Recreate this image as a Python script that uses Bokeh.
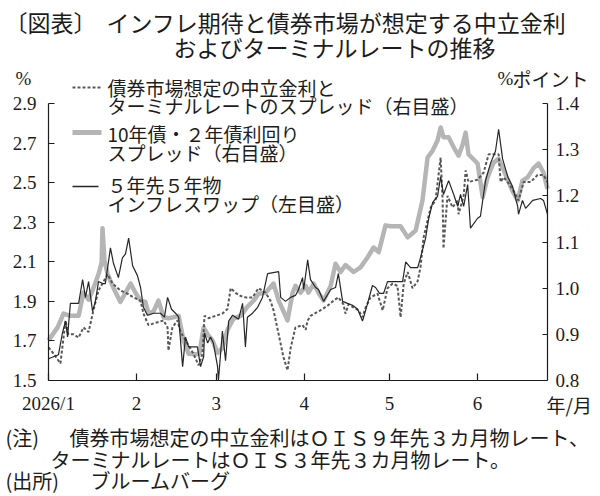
from bokeh.plotting import figure
from bokeh.models import Range1d, LinearAxis, FixedTicker, Label, Arrow, NumeralTickFormatter
from bokeh.embed import file_html
from bokeh.resources import INLINE

# ---------------- data (x = days since 2026/1/1) ----------------
month_ticks = [0, 31, 59, 90, 120, 151]
month_labels = ["2026/1", "2", "3", "4", "5", "6"]
left_ticks = [1.5, 1.7, 1.9, 2.1, 2.3, 2.5, 2.7, 2.9]
right_ticks = [0.8, 0.9, 1.0, 1.1, 1.2, 1.3, 1.4]

# 5年先5年物インフレスワップ (left axis, %)
swap_day = [0, 3.5, 4.9, 6.0, 6.7, 7.7, 10.6, 12.0, 13.0, 14.1,
            15.5, 16.5, 17.6, 19.0, 20.0, 21.8, 22.9, 24.6, 26.0, 27.1,
            28.2, 29.6, 31.3, 32.4, 33.4, 34.8, 37.0, 39.4, 40.8, 41.9,
            43.3, 44.7, 45.8, 47.2, 48.2, 49.3, 50.7, 52.4, 53.5, 54.6,
            54.9, 56.0, 57.0, 58.0, 59.5, 59.8, 61.2, 62.3, 63.4, 64.8,
            66.9, 68.3, 69.3, 70.0, 71.8, 73.6, 75.3, 77.1, 81.0, 81.7,
            83.4, 85.2, 86.9, 88.0, 89.4, 89.8, 91.2, 92.2, 94.0, 95.0,
            96.8, 99.3, 101.0, 102.0, 103.5, 105.2, 107.0, 108.8, 110.5, 112.3,
            114.0, 115.1, 116.5, 117.9, 119.3, 122.1, 124.6, 125.7, 127.4, 129.9,
            130.9, 132.7, 133.8, 135.2, 136.9, 138.0, 139.0, 140.8, 142.6, 144.0,
            145.0, 146.1, 147.5, 148.5, 151.0, 152.0, 153.8, 155.6, 157.3, 158.4,
            159.8, 161.6, 163.3, 165.1, 165.4, 166.8, 167.9, 170.4, 173.2, 174.2,
            175.6]
swap_val = [1.61, 1.63, 1.74, 1.80, 1.72, 1.89, 1.89, 2.01, 1.92, 2.00,
            1.85, 1.90, 2.00, 1.99, 1.99, 2.17, 2.09, 2.02, 2.12, 2.14,
            2.22, 2.08, 2.03, 1.97, 1.87, 1.83, 1.84, 1.84, 1.82, 1.92,
            1.86, 1.84, 1.82, 1.57, 1.72, 1.67, 1.67, 1.67, 1.57, 1.62,
            1.74, 1.69, 1.72, 1.69, 1.57, 1.50, 1.75, 1.60, 1.80, 1.83,
            1.81, 1.89, 1.67, 1.82, 1.84, 1.87, 1.92, 2.04, 2.05, 1.92,
            1.90, 1.92, 1.93, 1.96, 2.02, 1.96, 2.11, 2.01, 1.97, 1.96,
            1.90, 1.96, 1.97, 2.04, 1.90, 1.89, 1.88, 1.86, 1.80, 1.89,
            1.98, 1.97, 1.94, 1.94, 2.00, 2.00, 2.00, 2.10, 2.07, 2.07,
            2.12, 2.22, 2.32, 2.40, 2.43, 2.53, 2.44, 2.51, 2.44, 2.38,
            2.44, 2.38, 2.49, 2.27, 2.32, 2.33, 2.51, 2.60, 2.66, 2.77,
            2.62, 2.53, 2.48, 2.38, 2.34, 2.41, 2.37, 2.41, 2.42, 2.41,
            2.34]

# 10年債・2年債利回りスプレッド (right axis, %pt)
spread_day = [0, 3.2, 5.3, 7.7, 10.6, 12.3, 14.1, 15.8, 17.6, 18.7,
              19.0, 19.7, 20.8, 22.9, 25.3, 27.1, 28.9, 30.6, 32.4, 34.1,
              35.2, 37.0, 38.7, 40.5, 42.2, 44.0, 45.8, 47.5, 49.3, 51.7,
              53.1, 54.6, 56.0, 57.7, 59.5, 61.2, 63.0, 65.1, 67.6, 70.0,
              72.2, 73.9, 76.4, 79.2, 81.0, 82.7, 84.1, 85.9, 86.9, 88.7,
              90.5, 91.5, 93.3, 95.0, 96.8, 99.3, 101.0, 102.8, 104.5, 107.4,
              109.8, 112.3, 114.4, 116.2, 118.6, 120.4, 123.9, 126.4, 129.2, 131.6,
              133.4, 135.2, 136.9, 138.0, 139.0, 140.8, 142.6, 144.3, 145.7, 146.8,
              147.8, 151.0, 152.8, 154.5, 156.6, 158.4, 160.2, 161.6, 163.3, 165.1,
              166.8, 168.6, 170.7, 172.5, 174.2, 175.6]
spread_val = [0.887, 0.915, 0.945, 0.94, 0.94, 0.99, 0.975, 1.0, 1.03, 1.056,
              1.13, 1.06, 1.03, 1.0, 0.97, 0.99, 1.01, 0.99, 0.973, 0.97,
              0.945, 0.95, 0.973, 0.937, 0.935, 0.937, 0.94, 0.887, 0.858, 0.857,
              0.858, 0.915, 0.90, 0.887, 0.86, 0.87, 0.91, 0.934, 0.94, 0.96,
              0.973, 0.988, 0.99, 1.01, 0.973, 0.95, 0.93, 0.99, 1.005, 0.99,
              1.005, 0.99, 1.01, 0.99, 0.973, 1.005, 1.053, 1.035, 1.05, 1.035,
              1.045, 1.067, 1.088, 1.078, 1.136, 1.134, 1.134, 1.11, 1.125, 1.19,
              1.283, 1.298, 1.32, 1.348, 1.327, 1.327, 1.305, 1.287, 1.31, 1.337,
              1.29, 1.27, 1.197, 1.24, 1.272, 1.28, 1.255, 1.235, 1.21, 1.19,
              1.233, 1.24, 1.26, 1.27, 1.25, 1.215]

# 債券市場想定の中立金利とターミナルレートのスプレッド (right axis, %pt)
neutral_day = [0, 1.8, 4.2, 6.0, 7.0, 8.8, 10.6, 12.3, 14.1, 15.8,
               17.6, 19.0, 20.8, 22.5, 25.3, 27.8, 29.9, 32.4, 33.4, 35.2,
               37.7, 40.5, 41.9, 42.2, 43.6, 45.4, 46.5, 48.9, 51.0, 52.8,
               54.2, 54.9, 56.3, 58.8, 61.2, 63.0, 64.1, 65.8, 67.6, 69.3,
               71.8, 73.9, 76.4, 78.1, 79.2, 81.0, 82.7, 84.1, 85.2, 86.9,
               89.4, 90.5, 91.2, 92.2, 95.7, 98.2, 100.3, 102.0, 103.8, 104.5,
               105.6, 107.4, 109.1, 110.5, 111.6, 113.3, 115.8, 117.6, 119.3, 121.1,
               122.8, 123.9, 125.0, 126.4, 128.1, 129.9, 130.9, 132.0, 134.5, 136.2,
               138.0, 138.7, 139.0, 140.4, 142.2, 144.0, 144.3, 146.1, 146.8, 147.8,
               151.0, 153.1, 154.9, 156.6, 158.4, 159.1, 160.2, 161.9, 163.7, 165.4,
               167.2, 169.7, 172.1, 174.2, 175.6]
neutral_val = [0.872, 0.858, 0.837, 0.93, 0.90, 0.90, 0.893, 0.915, 0.905, 0.952,
               0.995, 1.01, 1.03, 1.01, 0.995, 0.988, 0.98, 0.973, 0.945, 0.92,
               0.925, 0.93, 0.915, 0.865, 0.915, 0.93, 0.905, 0.88, 0.858, 0.833,
               0.858, 0.94, 0.935, 0.94, 0.945, 0.955, 1.0, 0.99, 0.983, 0.98,
               0.98, 1.0, 0.99, 0.973, 0.952, 0.90, 0.85, 0.822, 0.87, 0.915,
               0.92, 0.91, 0.93, 0.94, 0.952, 0.962, 0.973, 0.98, 0.965, 0.945,
               0.965, 0.958, 0.952, 0.937, 0.958, 0.98, 0.988, 0.952, 1.0, 1.01,
               1.005, 0.937, 1.01, 1.035, 1.0, 1.015, 1.045, 1.11, 1.175, 1.19,
               1.283, 1.19, 1.086, 1.2, 1.175, 1.19, 1.16, 1.2, 1.255, 1.23,
               1.235, 1.25, 1.29, 1.29, 1.29, 1.23, 1.24, 1.227, 1.21, 1.19,
               1.23, 1.23, 1.245, 1.245, 1.23]

# ---------------- layout ----------------
W, H = 600, 496
FL, FR, FT, FB = 48, 547, 103, 380          # plot box inside the canvas (pixels)
X0, X1 = 0, 175.6
YL0, YL1 = 1.5, 2.9
YR0, YR1 = 0.8, 1.4

def dx(px):
    return X0 + (px - FL) / (FR - FL) * (X1 - X0)

def dy(py):
    return YL0 + (FB - py) / (FB - FT) * (YL1 - YL0)

def dyr(py):
    return YR0 + (FB - py) / (FB - FT) * (YR1 - YR0)

# the frame spans the whole canvas; axes are pinned at the plot-box edges
p = figure(width=W, height=H, output_backend="svg", toolbar_location=None,
           x_range=Range1d(dx(0), dx(W)), y_range=Range1d(dy(H), dy(0)),
           x_axis_type=None, y_axis_type=None,
           min_border=0, min_border_left=0, min_border_right=0,
           min_border_top=0, min_border_bottom=0)
p.extra_y_ranges = {"right": Range1d(dyr(H), dyr(0))}
p.outline_line_color = None
p.background_fill_color = "white"
p.border_fill_color = "white"

TXT = "#1c1c1c"
NUM_FONT = "Liberation Serif"
JP_FONT = "Noto Sans CJK JP"

def style_axis(ax, tick_in, standoff):
    ax.axis_line_color = TXT
    ax.axis_line_width = 1.2
    ax.major_tick_line_color = TXT
    ax.major_tick_line_width = 1.2
    ax.major_tick_in = tick_in
    ax.major_tick_out = 0
    ax.minor_tick_line_color = None
    ax.major_label_text_font = NUM_FONT
    ax.major_label_text_font_size = "19px"
    ax.major_label_text_color = TXT
    ax.major_label_standoff = standoff

xa = LinearAxis(ticker=FixedTicker(ticks=month_ticks),
                major_label_overrides={t: s for t, s in zip(month_ticks, month_labels)},
                fixed_location=YL0, bounds=(X0, X1))
style_axis(xa, 7, 12)
p.add_layout(xa, "below")

ya = LinearAxis(ticker=FixedTicker(ticks=left_ticks), formatter=NumeralTickFormatter(format="0.0"),
                fixed_location=X0, bounds=(YL0, YL1))
style_axis(ya, 6, 12)
p.add_layout(ya, "left")

yr = LinearAxis(y_range_name="right", ticker=FixedTicker(ticks=right_ticks),
                formatter=NumeralTickFormatter(format="0.0"),
                fixed_location=X1, bounds=(YR0, YR1))
style_axis(yr, 5, 8)
p.add_layout(yr, "right")

# ---------------- series ----------------
GRAY = "#b5b5b5"
DASH = "#585858"
BLACK = "#262626"
p.line(spread_day, spread_val, y_range_name="right", line_color=GRAY, line_width=4.5,
       line_join="round")
p.line(neutral_day, neutral_val, y_range_name="right", line_color=DASH, line_width=2,
       line_dash="3 2")
p.line(swap_day, swap_val, line_color=BLACK, line_width=1.2)

# ---------------- legend (manual) ----------------
p.add_layout(Arrow(end=None, x_start=dx(72), y_start=dy(87), x_end=dx(101), y_end=dy(87),
                   line_color=DASH, line_width=2, line_dash="3 2"))
p.add_layout(Arrow(end=None, x_start=dx(72), y_start=dy(132), x_end=dx(101), y_end=dy(132),
                   line_color=GRAY, line_width=5))
p.add_layout(Arrow(end=None, x_start=dx(72), y_start=dy(186), x_end=dx(98), y_end=dy(186),
                   line_color=BLACK, line_width=1.4))

def lab(px, py, text, size="19px", font=JP_FONT, align="left", style="normal"):
    p.add_layout(Label(x=dx(px), y=dy(py), text=text, text_font=font,
                       text_font_size=size, text_color=TXT, text_align=align,
                       text_baseline="middle", text_font_style=style))

legend_lines = [
    (87, "債券市場想定の中立金利と"),
    (105, "ターミナルレートのスプレッド（右目盛）"),
    (133, "10年債・２年債利回り"),
    (152, "スプレッド（右目盛）"),
    (184, "５年先５年物"),
    (203, "インフレスワップ（左目盛）"),
]
for yy, t in legend_lines:
    lab(107, yy, t)

# title
lab(4, 21, "〔図表〕", size="23px")
lab(106, 21, "インフレ期待と債券市場が想定する中立金利", size="23px")
lab(173, 46, "およびターミナルレートの推移", size="23px")

# axis units
lab(15, 78, "%", font=NUM_FONT)
lab(497, 78, "%", font=NUM_FONT)
lab(512, 78, "ポイント")
lab(546, 404, "年/月")

# notes
lab(5, 437, "(注)", size="20px")
lab(69, 437, "債券市場想定の中立金利はＯＩＳ９年先３カ月物レート、", size="20px")
lab(50, 459, "ターミナルレートはＯＩＳ３年先３カ月物レート。", size="20px")
lab(5, 480, "(出所)", size="20px")
lab(90, 480, "ブルームバーグ", size="20px")

open("out.html", "w").write(file_html(p, INLINE))
